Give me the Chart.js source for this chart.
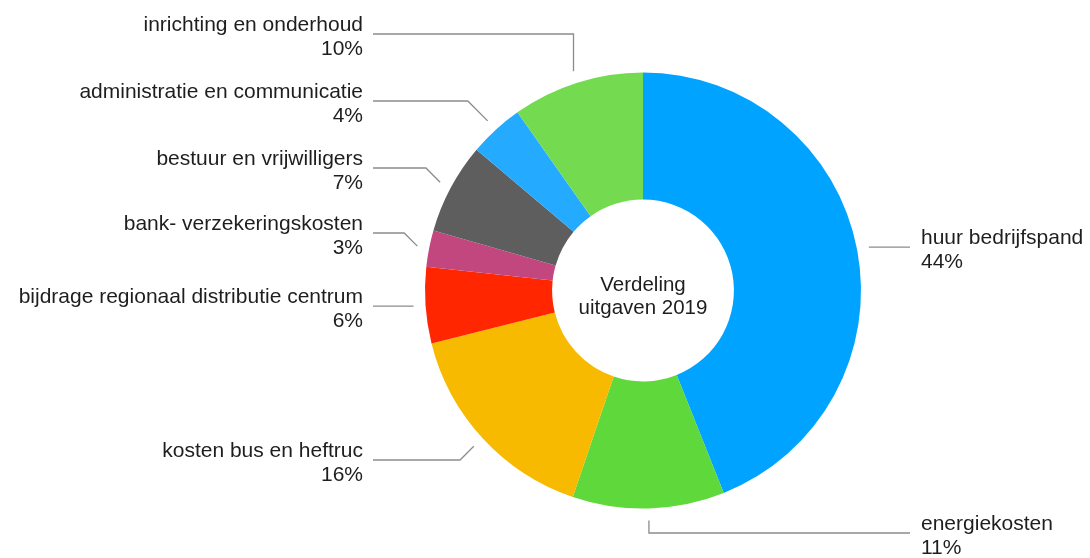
<!DOCTYPE html>
<html>
<head>
<meta charset="utf-8">
<script src="https://cdn.jsdelivr.net/npm/chart.js@4.4.1/dist/chart.umd.min.js"></script>
<style>
  html, body { margin: 0; padding: 0; background: #fff; }
  canvas { display: block; }
</style>
</head>
<body>
<canvas id="uitgaven" width="1090" height="558"></canvas>
<script>
// categorieen en aandeel (%) uitgaven 2019
var categories = [
  'huur bedrijfspand',
  'energiekosten',
  'kosten bus en heftruc',
  'bijdrage regionaal distributie centrum',
  'bank- verzekeringskosten',
  'bestuur en vrijwilligers',
  'administratie en communicatie',
  'inrichting en onderhoud'
];
var values = [43.96, 11.26, 15.88, 5.64, 2.70, 6.73, 4.06, 9.77];
var centerTitle = ['Verdeling', 'uitgaven 2019'];

var sliceColors = ['#00A3FF', '#5ED83A', '#F7BA00', '#FF2600', '#C2477F', '#5E5E5E', '#24AAFF', '#74DB50'];

// y of each leader line (label layout, not data)
var labelLineY = [247, 533, 460, 306, 233, 168, 101, 34];

var labelFont = '21px "Liberation Sans", Arial, Helvetica, sans-serif';
var centerFont = '20.5px "Liberation Sans", Arial, Helvetica, sans-serif';

var outsideLabels = {
  id: 'outsideLabels',
  afterDatasetsDraw: function(chart) {
    var ctx = chart.ctx;
    var meta = chart.getDatasetMeta(0);
    var data = chart.data.datasets[0].data;
    var total = data.reduce(function(a, b) { return a + b; }, 0);

    ctx.save();
    meta.data.forEach(function(arc, i) {
      var p = arc.getProps(['x', 'y', 'startAngle', 'endAngle', 'outerRadius'], true);
      var mid = (p.startAngle + p.endAngle) / 2;
      var cos = Math.cos(mid), sin = Math.sin(mid);
      var r = p.outerRadius + 12;
      var px = p.x + r * cos, py = p.y + r * sin;
      var right = cos >= 0;
      var ly = labelLineY[i];
      var dy = ly - py;
      var ex, ey = ly;
      var steep = Math.atan2(Math.abs(sin), Math.abs(cos)) > Math.PI * 3 / 8;
      if (Math.abs(dy) < 0.5) {
        ex = px; ey = py;
      } else if (steep) {
        ex = px;
      } else {
        ex = px + (right ? 1 : -1) * Math.abs(dy);
      }
      var endX = right ? 910 : 373;

      ctx.strokeStyle = '#8c8c8c';
      ctx.lineWidth = 1.3;
      ctx.beginPath();
      ctx.moveTo(px, py);
      ctx.lineTo(ex, ey);
      ctx.lineTo(endX, ey);
      ctx.stroke();

      ctx.fillStyle = '#1e1e1e';
      ctx.font = labelFont;
      ctx.textBaseline = 'alphabetic';
      ctx.textAlign = right ? 'left' : 'right';
      var tx = right ? 921 : 363;
      var pct = Math.round(data[i] / total * 100) + '%';
      ctx.fillText(chart.data.labels[i], tx, ey - 3);
      ctx.fillText(pct, tx, ey + 20.5);
    });

    // titel in het midden
    var c = meta.data[0];
    ctx.font = centerFont;
    ctx.textAlign = 'center';
    ctx.fillStyle = '#1e1e1e';
    ctx.fillText(centerTitle[0], c.x, c.y);
    ctx.fillText(centerTitle[1], c.x, c.y + 23);
    ctx.restore();
  }
};

var ctx = document.getElementById('uitgaven').getContext('2d');
var chart = new Chart(ctx, {
  type: 'doughnut',
  data: {
    labels: categories,
    datasets: [{
      data: values,
      backgroundColor: sliceColors,
      borderWidth: 0
    }]
  },
  options: {
    responsive: false,
    animation: false,
    cutout: '41.7%',
    layout: {
      padding: { top: 72.5, bottom: 49.5, left: 425, right: 229 }
    },
    plugins: {
      legend: { display: false },
      tooltip: { enabled: false }
    }
  },
  plugins: [outsideLabels]
});
</script>
</body>
</html>
